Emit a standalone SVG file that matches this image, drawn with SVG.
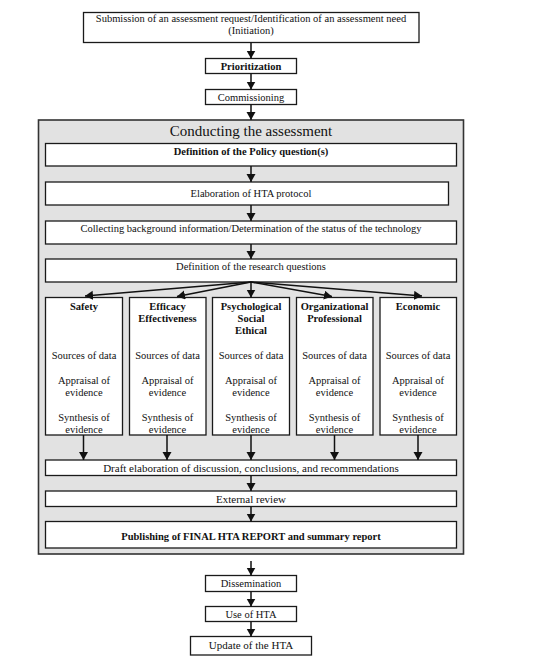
<svg xmlns="http://www.w3.org/2000/svg" width="541" height="663" viewBox="0 0 541 663">
<style>
  .box { fill: #ffffff; stroke: #1a1a1a; stroke-width: 1.3; }
  .panel { fill: #e2e2e2; stroke: #333333; stroke-width: 1.6; }
  .t { font-family: "Liberation Serif", "Times New Roman", serif; font-size: 10.5px; fill: #111; text-anchor: middle; }
  .b { font-weight: bold; }
  .lg { font-size: 11px; }
  .title { font-size: 15px; }
  .conn line { stroke: #111; stroke-width: 1.5; marker-end: url(#ah); }
</style>
<defs>
  <marker id="ah" markerUnits="userSpaceOnUse" markerWidth="10" markerHeight="10" refX="8" refY="4.5" orient="auto">
    <path d="M0,0 L8,4.5 L0,9 Z" fill="#111"/>
  </marker>
</defs>
<rect width="541" height="663" fill="#ffffff"/>

<g id="initiation">
  <rect class="box" x="83.5" y="12.5" width="335.5" height="30"/>
  <text class="t" x="251" y="22">Submission of an assessment request/Identification of an assessment need</text>
  <text class="t" x="251" y="33.5">(Initiation)</text>
</g>
<g id="prioritization">
  <rect class="box" x="205.5" y="58.5" width="91" height="15"/>
  <text class="t b" x="251" y="69.5" font-size="9.4">Prioritization</text>
</g>
<g id="commissioning">
  <rect class="box" x="205.5" y="89.5" width="91" height="15"/>
  <text class="t" x="251" y="100.5">Commissioning</text>
</g>

<g id="conducting">
  <rect class="panel" x="38.5" y="120" width="425" height="434"/>
  <text class="t title" x="251" y="136">Conducting the assessment</text>
</g>
<g id="policy">
  <rect class="box" x="45.5" y="143.5" width="411" height="22.5"/>
  <text class="t b" x="251" y="155" font-size="9.6">Definition of the Policy question(s)</text>
</g>
<g id="protocol">
  <rect class="box" x="45.5" y="182" width="403" height="23"/>
  <text class="t" x="251" y="197">Elaboration of HTA protocol</text>
</g>
<g id="background">
  <rect class="box" x="45.5" y="221" width="411" height="23"/>
  <text class="t" x="251" y="232">Collecting background information/Determination of the status of the technology</text>
</g>
<g id="research">
  <rect class="box" x="45.5" y="259" width="411" height="23"/>
  <text class="t" x="251" y="270">Definition of the research questions</text>
</g>

<g id="safety">
  <rect class="box" x="45.5" y="297.5" width="77" height="137.5"/>
  <text class="t b" x="84" y="309.5">Safety</text>
  <text class="t" x="84" y="358.5">Sources of data</text>
  <text class="t" x="84" y="383.5">Appraisal of</text>
  <text class="t" x="84" y="395.5">evidence</text>
  <text class="t" x="84" y="420.5">Synthesis of</text>
  <text class="t" x="84" y="433">evidence</text>
</g>
<g id="efficacy">
  <rect class="box" x="129.5" y="297.5" width="76.5" height="137.5"/>
  <text class="t b" x="167.5" y="309.5">Efficacy</text>
  <text class="t b" x="167.5" y="321.5">Effectiveness</text>
  <text class="t" x="167.5" y="358.5">Sources of data</text>
  <text class="t" x="167.5" y="383.5">Appraisal of</text>
  <text class="t" x="167.5" y="395.5">evidence</text>
  <text class="t" x="167.5" y="420.5">Synthesis of</text>
  <text class="t" x="167.5" y="433">evidence</text>
</g>
<g id="psychological">
  <rect class="box" x="212.5" y="297.5" width="77" height="137.5"/>
  <text class="t b" x="251" y="309.5">Psychological</text>
  <text class="t b" x="251" y="321.5">Social</text>
  <text class="t b" x="251" y="334">Ethical</text>
  <text class="t" x="251" y="358.5">Sources of data</text>
  <text class="t" x="251" y="383.5">Appraisal of</text>
  <text class="t" x="251" y="395.5">evidence</text>
  <text class="t" x="251" y="420.5">Synthesis of</text>
  <text class="t" x="251" y="433">evidence</text>
</g>
<g id="organizational">
  <rect class="box" x="296.5" y="297.5" width="76.5" height="137.5"/>
  <text class="t b" x="334.5" y="309.5">Organizational</text>
  <text class="t b" x="334.5" y="321.5">Professional</text>
  <text class="t" x="334.5" y="358.5">Sources of data</text>
  <text class="t" x="334.5" y="383.5">Appraisal of</text>
  <text class="t" x="334.5" y="395.5">evidence</text>
  <text class="t" x="334.5" y="420.5">Synthesis of</text>
  <text class="t" x="334.5" y="433">evidence</text>
</g>
<g id="economic">
  <rect class="box" x="380" y="297.5" width="76.5" height="137.5"/>
  <text class="t b" x="418" y="309.5">Economic</text>
  <text class="t" x="418" y="358.5">Sources of data</text>
  <text class="t" x="418" y="383.5">Appraisal of</text>
  <text class="t" x="418" y="395.5">evidence</text>
  <text class="t" x="418" y="420.5">Synthesis of</text>
  <text class="t" x="418" y="433">evidence</text>
</g>

<g id="draft">
  <rect class="box" x="45.5" y="460" width="411" height="15.5"/>
  <text class="t lg" x="251" y="471.5">Draft elaboration of discussion, conclusions, and recommendations</text>
</g>
<g id="review">
  <rect class="box" x="45.5" y="491" width="411" height="15.5"/>
  <text class="t lg" x="251" y="502.5">External review</text>
</g>
<g id="publishing">
  <rect class="box" x="45.5" y="521.5" width="411" height="26.5"/>
  <text class="t b" x="251" y="540" font-size="11.6">Publishing of FINAL HTA REPORT and summary report</text>
</g>

<g id="dissemination">
  <rect class="box" x="205.5" y="575.5" width="91" height="16"/>
  <text class="t" x="251" y="587">Dissemination</text>
</g>
<g id="use">
  <rect class="box" x="205.5" y="606.5" width="91" height="15"/>
  <text class="t" x="251" y="617.5">Use of HTA</text>
</g>
<g id="update">
  <rect class="box" x="190.5" y="636.5" width="121" height="18.5"/>
  <text class="t lg" x="251" y="649">Update of the HTA</text>
</g>

<g id="connectors" class="conn">
  <line x1="251" y1="42.5" x2="251" y2="58.5"/>
  <line x1="251" y1="73.5" x2="251" y2="89.5"/>
  <line x1="251" y1="104.5" x2="251" y2="120"/>
  <line x1="251" y1="166" x2="251" y2="182"/>
  <line x1="251" y1="205" x2="251" y2="221"/>
  <line x1="251" y1="244" x2="251" y2="259"/>
  <line x1="251" y1="282" x2="85" y2="296"/>
  <line x1="251" y1="282" x2="177" y2="296.5"/>
  <line x1="251" y1="282" x2="251" y2="297.5"/>
  <line x1="251" y1="282" x2="332" y2="296.5"/>
  <line x1="251" y1="282" x2="422" y2="296"/>
  <line x1="83.5" y1="435" x2="83.5" y2="460"/>
  <line x1="167" y1="435" x2="167" y2="460"/>
  <line x1="251" y1="435" x2="251" y2="460"/>
  <line x1="334.5" y1="435" x2="334.5" y2="460"/>
  <line x1="418" y1="435" x2="418" y2="460"/>
  <line x1="251" y1="475.5" x2="251" y2="491"/>
  <line x1="251" y1="506.5" x2="251" y2="521.5"/>
  <line x1="251" y1="561" x2="251" y2="575.5"/>
  <line x1="251" y1="591.5" x2="251" y2="606.5"/>
  <line x1="251" y1="621.5" x2="251" y2="636.5"/>
</g>
</svg>
